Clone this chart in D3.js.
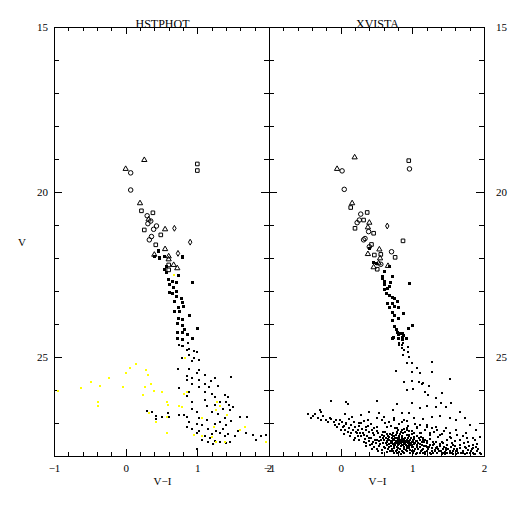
<!DOCTYPE html>
<html>
<head>
<meta charset="utf-8">
<script src="https://cdn.jsdelivr.net/npm/d3@7"></script>
<style>
  body { margin: 0; background: #fff; }
  svg { display: block; }
  text { font-family: "Liberation Serif", "DejaVu Serif", serif; fill: #000; }
</style>
</head>
<body>
<svg id="cmd"></svg>
<script>
// panel titles and axis labels
const panelNames = ["HSTPHOT", "XVISTA"];
const xTickLabels = [-1, 0, 1, 2];
const yTickLabels = [15, 20, 25];

// HSTPHOT panel, [V-I, V]
const hstSquares = [[1.0,19.15],[1.0,19.35],[0.22,20.57],[0.38,20.63],[0.26,21.15],[0.49,21.30],[0.42,21.60],[0.60,22.21],[0.60,22.36]];
const hstCircles = [[0.07,19.42],[0.07,19.94],[0.30,20.72],[0.35,20.88],[0.31,20.96],[0.39,21.13],[0.43,21.03],[0.36,21.35],[0.33,21.45]];
const hstTriangles = [[0.26,19.03],[0.0,19.30],[0.20,20.34],[0.32,20.83],[0.55,21.13],[0.55,21.73],[0.40,21.90],[0.60,21.95],[0.60,22.04],[0.67,22.21],[0.72,22.31]];
const hstDiamonds = [[0.68,21.10],[0.90,21.52],[0.73,21.86]];
const hstDots = [
  [0.45,21.76],[0.47,21.98],[0.53,21.95],[0.78,21.98],[0.39,21.94],[0.45,21.79],[0.47,22.00],[0.53,21.94],[0.56,22.24],
  [0.53,22.33],[0.56,22.42],[0.78,21.94],[0.73,22.52],[0.59,22.64],[0.64,22.70],[0.70,22.73],[0.61,22.79],[0.66,22.88],
  [0.70,23.00],[0.60,23.03],[0.64,23.06],[0.92,22.73],[0.70,23.15],[0.77,23.21],[0.68,23.30],[0.79,23.33],[0.80,23.45],
  [0.73,23.48],[0.74,23.62],[0.67,23.60],[0.89,23.73],[0.73,23.82],[0.79,23.85],[0.72,23.97],[0.78,24.03],[0.82,24.15],
  [0.79,24.24],[0.99,24.12],[0.71,24.24],[0.85,24.30],[0.92,24.42],[0.71,24.42],[0.78,24.45],[0.87,24.58],[0.80,24.67],
  [0.89,24.76],[0.75,24.64],
  [0.78,24.67],[0.86,24.79],[0.95,24.82],[1.00,24.85],[0.89,24.94],[0.79,25.03],[0.96,25.03],[0.92,25.12],[1.02,25.10],
  [0.73,25.36],[0.89,25.36],[1.03,25.39],[1.00,25.48],[1.10,25.55],[0.85,25.58],[0.93,25.64],[0.86,25.70],[1.03,25.70],
  [1.19,25.73],[1.24,25.64],[1.10,25.82],[0.93,25.82],[1.47,25.62],[0.74,25.94],[1.03,25.91],[1.16,25.91],[1.29,25.88],
  [0.89,26.06],[1.10,26.06],[1.20,26.11],[1.38,26.14],[0.85,26.18],[1.24,26.21],[1.43,26.21],[1.10,26.30],[0.93,26.37],
  [1.31,26.37],[1.40,26.35],[1.24,26.45],[1.13,26.47],[1.44,26.45],[1.50,26.50],[0.79,26.50],[1.36,26.58],[1.45,26.61],
  [0.93,26.58],[1.00,26.67],[1.20,26.67],[1.29,26.72],[1.59,26.82],[1.69,26.82],[0.61,26.82],[0.86,26.82],[1.03,26.85],
  [1.38,26.85],[1.13,26.91],[0.89,26.96],[1.31,26.96],[1.47,26.94],[0.99,27.02],[1.07,27.06],[1.24,27.04],[1.40,27.06],
  [0.85,27.12],[0.93,27.17],[1.15,27.17],[1.36,27.17],[1.03,27.24],[1.26,27.24],[1.57,27.24],[0.99,27.31],[1.20,27.33],
  [1.31,27.31],[1.43,27.33],[1.68,27.31],[1.10,27.40],[1.17,27.45],[1.38,27.40],[1.52,27.40],[1.06,27.52],[1.24,27.55],
  [1.45,27.57],[1.31,27.58],[1.15,27.58],[1.78,27.36],[1.89,27.38],[1.96,27.36],[1.82,27.52],[1.22,27.64],[1.40,27.61],
  [0.82,26.76],[0.75,26.76],[0.30,26.64],[0.37,26.68],[0.42,26.79],[0.50,26.81],[0.60,26.81],[0.42,26.89],[0.59,26.71],
  [1.0,27.79]
];
const hstYellow = [
  [-0.94,26.02],[-0.63,25.95],[-0.49,25.75],[-0.36,25.88],[-0.23,25.65],[-0.04,25.92],[-0.39,26.37],[-0.39,26.48],
  [0.01,25.49],[0.06,25.34],[0.14,25.21],[0.29,25.39],[0.31,25.55],[0.27,25.90],[0.39,26.03],[0.36,25.83],[0.24,26.15],
  [0.50,26.05],[0.59,26.45],[0.57,26.37],[0.33,26.71],[0.42,26.98],[0.57,26.81],[0.57,27.31],[0.83,25.02],[0.82,26.13],
  [0.85,26.05],[0.74,26.49],[0.78,26.52],[1.07,26.84],[1.27,26.37],[1.31,26.49],[1.26,26.61],[1.41,26.76],[1.23,27.11],
  [1.06,27.38],[0.96,27.36],[1.21,27.41],[1.39,27.57],[1.59,27.21],[1.67,27.11],[1.26,27.58],[1.96,27.57],[0.67,22.52]
];

// XVISTA panel, [V-I, V]
const xvSquares = [[0.95,19.05],[0.14,20.47],[0.37,20.62],[0.32,20.85],[0.20,21.10],[0.46,21.25],[0.87,21.48],[0.43,21.59],[0.56,21.89],[0.76,21.98],[0.47,21.91],[0.51,22.34]];
const xvCircles = [[0.02,19.36],[0.96,19.30],[0.05,19.92],[0.28,20.67],[0.26,20.85],[0.23,20.93],[0.39,21.20],[0.34,21.41],[0.32,21.45],[0.40,21.66],[0.71,21.81],[0.56,22.19]];
const xvTriangles = [[0.195,18.95],[-0.05,19.30],[0.16,20.34],[0.40,20.93],[0.38,21.07],[0.54,21.74],[0.38,21.88],[0.55,22.01],[0.53,22.16],[0.46,22.28],[0.66,22.24]];
const xvDiamonds = [[0.65,21.03]];
const xvDots = [
  [0.40,21.71],[0.45,22.11],[0.49,22.14],[0.61,22.38],[0.67,22.24],[0.71,22.55],[0.58,22.55],[0.57,22.62],[0.60,22.69],
  [0.69,22.74],[0.96,22.77],[0.61,22.79],[0.67,22.85],[0.64,22.92],[0.60,22.95],[0.63,23.05],[0.68,23.12],[0.72,23.19],
  [0.75,23.22],[0.64,23.35],[0.72,23.37],[0.79,23.29],[0.68,23.49],[0.75,23.45],[0.80,23.49],[0.72,23.63],[0.87,23.68],
  [0.75,23.73],[0.80,23.83],[0.71,23.88],[1.00,24.03],[0.94,24.13],[0.74,24.06],[0.77,24.16],[0.79,24.23],[0.81,24.28],
  [0.85,24.26],[0.87,24.33],[0.71,24.43],[0.80,24.43],[0.85,24.46],[0.91,24.43],[0.87,24.58],[0.82,24.64],[0.94,24.71],
  [0.86,24.74],
  [0.80,24.30],[0.85,24.38],[0.73,24.40],[0.82,24.58],[0.86,24.64],[0.89,24.79],[0.94,24.84],[0.87,24.94],[0.95,24.99],
  [0.99,25.19],[0.92,25.19],[1.06,25.34],[1.28,25.16],[0.77,25.42],[0.99,25.45],[1.10,25.48],[1.27,25.45],[0.89,25.75],
  [0.99,25.72],[1.09,25.75],[1.13,25.82],[1.15,25.80],[1.52,25.68],[0.92,26.00],[1.01,25.98],[1.17,26.05],[1.23,25.88],
  [-0.13,26.32],[0.08,26.35],[0.10,26.42],[-0.27,26.66],[-0.29,26.61],[-0.13,26.89],[0.51,26.33],[0.78,26.42],[0.99,26.40],
  [1.22,26.15],[1.33,26.25],[1.42,26.08],[1.40,26.38],[1.54,26.40],[1.47,26.52],[1.33,26.50],[1.20,26.48],[1.10,26.55],
  [0.96,26.71],[0.85,26.71],[0.73,26.61],[0.54,26.69],[0.40,26.66],[0.29,26.76],[0.16,26.83],[0.06,26.73],[-0.01,26.91],
  [0.08,27.01],[0.03,27.11],[0.15,27.06],[0.26,26.99],[0.38,26.91],[0.50,26.86],[0.61,26.83],[0.75,26.86],[0.89,26.91],
  [1.03,26.86],[1.15,26.89],[1.27,26.83],[1.38,26.79],[1.52,26.86],[1.61,26.91],[1.73,26.86],[1.66,26.66],[1.80,27.06],
  [1.89,27.21],[1.94,27.41],[1.85,27.46],[1.75,27.31],[1.61,27.21],[1.47,27.16],[1.33,27.11],[1.20,27.06],[1.06,27.11],
  [0.92,27.16],[0.78,27.16],[0.64,27.13],[0.50,27.11],[0.36,27.13],[0.24,27.21],[0.31,27.31],[0.45,27.31],[0.59,27.26],
  [0.73,27.31],[0.82,27.41],[0.96,27.36],[1.10,27.31],[1.24,27.31],[1.38,27.36],[1.52,27.41],[1.66,27.52],[1.57,27.67],
  [1.43,27.62],[1.29,27.57],[1.15,27.52],[1.01,27.57],[0.87,27.57],[0.73,27.52],[0.59,27.46],[0.50,27.52],[0.40,27.46],
  [0.64,27.67],[0.78,27.72],[0.92,27.77],[1.06,27.72],[1.20,27.74],[1.33,27.77],[1.47,27.82],[1.61,27.84],[1.75,27.77],
  [1.89,27.72],[1.85,27.92],[1.71,27.92],[1.57,27.94],[1.43,27.92],[1.29,27.90],[1.15,27.90],[1.01,27.92],[0.87,27.87],
  [0.73,27.84],[0.82,27.62],[0.80,27.52],
  [0.52,27.30],[0.55,27.42],[0.58,27.36],[0.60,27.50],[0.62,27.28],[0.63,27.45],[0.65,27.58],[0.66,27.38],[0.68,27.52],
  [0.69,27.33],[0.70,27.62],[0.71,27.46],[0.72,27.55],[0.73,27.40],[0.74,27.68],[0.75,27.50],[0.76,27.60],[0.77,27.35],
  [0.78,27.72],[0.79,27.44],[0.80,27.56],[0.81,27.64],[0.82,27.48],[0.83,27.78],[0.84,27.52],[0.85,27.66],[0.86,27.40],
  [0.87,27.58],[0.88,27.74],[0.89,27.47],[0.90,27.62],[0.91,27.82],[0.92,27.54],[0.93,27.70],[0.94,27.45],[0.95,27.60],
  [0.96,27.76],[0.97,27.52],[0.98,27.66],[0.99,27.86],[1.00,27.58],[1.01,27.72],[1.02,27.48],[1.03,27.64],[1.04,27.80],
  [1.05,27.56],[1.06,27.68],[1.07,27.90],[1.08,27.62],[1.10,27.74],[1.11,27.52],[1.12,27.84],[1.14,27.66],[1.15,27.78],
  [1.16,27.58],[1.18,27.88],[1.19,27.70],[1.20,27.62],[1.22,27.80],[1.24,27.92],[1.25,27.68],[1.27,27.76],[1.28,27.86],
  [1.30,27.64],[1.32,27.82],[1.34,27.92],[1.35,27.74],[1.37,27.86],[1.39,27.70],[1.41,27.94],[1.43,27.80],[1.45,27.88],
  [1.47,27.76],[1.49,27.92],[1.52,27.84],[1.54,27.72],[1.56,27.90],[1.58,27.80],[1.61,27.94],[1.63,27.86],[1.66,27.76],
  [1.68,27.92],[1.71,27.84],[1.74,27.94],[1.77,27.82],[1.80,27.90],[1.83,27.78],[1.86,27.94],[1.90,27.86],[1.94,27.90],
  [-0.45,26.72],[-0.38,26.80],[-0.32,26.86],[-0.25,26.78],[-0.20,26.92],[-0.15,26.84],[-0.10,26.98],[-0.06,26.90],
  [-0.02,27.04],[0.02,26.96],[0.05,27.10],[0.08,27.02],[0.11,27.16],[0.14,27.06],[0.17,27.20],[0.20,27.12],[0.22,27.26],
  [0.25,27.08],[0.27,27.30],[0.30,27.18],[0.32,27.36],[0.35,27.22],[0.37,27.40],[0.40,27.28],[0.42,27.46],[0.44,27.20],
  [0.46,27.36],[0.48,27.50],[0.50,27.24],[0.12,26.88],[0.18,26.96],[0.28,27.00],[0.33,26.94],[0.38,27.08],[0.43,27.04],
  [0.47,27.14],[-0.05,27.12],[0.06,27.22],[0.15,27.30],[0.24,27.38],[0.34,27.48],[0.45,27.58],[0.55,27.64],[0.60,27.72],
  [0.66,27.80],[0.72,27.86],[0.78,27.90],[0.84,27.94],
  [0.62,27.00],[0.70,27.08],[0.76,27.14],[0.82,27.02],[0.88,27.18],[0.94,27.10],[1.00,27.24],[1.06,27.16],[1.12,27.30],
  [1.18,27.22],[1.24,27.36],[1.30,27.28],[1.36,27.42],[1.42,27.34],[1.48,27.50],[1.54,27.44],[1.60,27.56],[1.66,27.50],
  [1.72,27.62],[1.78,27.58],[1.84,27.68],[1.90,27.64],[0.58,26.92],[0.68,26.96],[0.74,26.90],[0.86,26.98],[0.92,26.94],
  [1.04,27.04],[1.10,27.06],[1.20,27.12],[1.28,27.14],[1.34,27.20],[1.44,27.24],[1.52,27.30],[1.62,27.36],[1.70,27.40],
  [1.76,27.46],[1.88,27.52],
  [0.71,27.58],[0.73,27.64],[0.75,27.70],[0.77,27.54],[0.79,27.62],[0.80,27.76],[0.81,27.50],[0.83,27.58],[0.84,27.70],
  [0.85,27.46],[0.86,27.56],[0.87,27.68],[0.88,27.52],[0.89,27.80],[0.90,27.56],[0.91,27.66],[0.92,27.76],[0.93,27.50],
  [0.94,27.62],[0.95,27.70],[0.96,27.56],[0.97,27.82],[0.98,27.60],[0.99,27.72],[0.76,27.44],[0.82,27.40],[0.78,27.82],
  [0.74,27.76],[0.70,27.70],[0.68,27.64],[0.64,27.54],[0.66,27.48],
  [0.32,27.58],[0.36,27.62],[0.39,27.54],[0.41,27.68],[0.44,27.64],[0.47,27.72],[0.49,27.60],[0.51,27.78],[0.53,27.56],
  [0.54,27.70],[0.56,27.50],[0.57,27.82],[0.59,27.60],[0.61,27.40],[0.62,27.76],[0.63,27.62],[0.64,27.88],[0.65,27.34],
  [0.67,27.72],[0.68,27.42],[0.69,27.86],[0.70,27.54],[0.71,27.36],[0.72,27.78],[0.73,27.48],[0.74,27.92],[0.75,27.38],
  [0.76,27.66],[0.77,27.84],[0.78,27.46],[0.79,27.30],[0.80,27.68],[0.81,27.88],[0.82,27.56],[0.83,27.34],[0.84,27.62],
  [0.85,27.84],[0.86,27.50],[0.87,27.30],[0.88,27.64],[0.89,27.90],[0.90,27.44],[0.91,27.58],[0.92,27.36],[0.93,27.84],
  [0.94,27.54],[0.95,27.40],[0.96,27.66],[0.97,27.92],[0.98,27.46],[0.99,27.34],[1.00,27.68],[1.01,27.50],[1.02,27.86],
  [1.03,27.42],[1.04,27.60],[1.05,27.94],[1.06,27.38],[1.07,27.54],[1.08,27.80],[1.09,27.46],[1.10,27.64],[1.11,27.90],
  [1.12,27.42],[1.13,27.58],[1.14,27.82],[1.15,27.44],[1.16,27.70],[1.17,27.94],[1.18,27.50],[1.20,27.84],[1.21,27.54],
  [1.23,27.72],[1.25,27.48],[1.26,27.94],[1.29,27.66],[1.31,27.84],[1.33,27.58],[1.36,27.78],[1.38,27.64],[1.40,27.86],
  [1.42,27.58],[1.44,27.72],[1.46,27.94],[1.48,27.66],[1.50,27.78],[1.53,27.90],[1.55,27.62],[1.57,27.84],[1.59,27.70],
  [1.62,27.78],[1.64,27.92],[1.67,27.68],[1.70,27.88],[1.73,27.74],[1.76,27.90],[1.79,27.70],[1.82,27.86],[1.85,27.76],
  [1.88,27.94],[1.92,27.80],[1.96,27.94],
  [0.20,27.44],[0.23,27.30],[0.26,27.50],[0.29,27.40],[0.10,27.28],[0.13,27.40],[0.00,27.20],[-0.08,27.06],[-0.18,26.98],
  [-0.28,26.92],[-0.36,26.74],[-0.42,26.86],[0.04,27.32],[0.18,27.52],[0.36,27.70],[0.52,27.86],[0.58,27.92],[0.44,27.80],
  [0.80,27.22],[0.84,27.26],[0.90,27.28],[0.96,27.24],[0.86,27.20],[0.92,27.22],[0.78,27.28],[1.02,27.30]
];

const width = 512;
const height = 512;
const plotTop = 27;
const plotBottom = 456;

const svg = d3.select("#cmd").attr("width", width).attr("height", height);

// y is shared, magnitudes grow downwards
const yscale = d3.scaleLinear().domain([15, 28]).range([plotTop, plotBottom]);

const panels = [
  { name: panelNames[0], x0: 54, x1: 269, squares: hstSquares, circles: hstCircles, triangles: hstTriangles, diamonds: hstDiamonds, dots: hstDots, yellow: hstYellow },
  { name: panelNames[1], x0: 269, x1: 484, squares: xvSquares, circles: xvCircles, triangles: xvTriangles, diamonds: xvDiamonds, dots: xvDots, yellow: [] },
];

const minorX = d3.range(-1, 2.001, 0.2).map((d) => +d.toFixed(1)).filter((d) => !Number.isInteger(d));
const minorY = d3.range(15, 29).filter((d) => d % 5 !== 0);
const fmt = (d) => (d < 0 ? "\u2212" + Math.abs(d) : String(d));
// brighter stars get a slightly bigger dot
const dotSize = (d) => (d[1] < 24.5 ? 3 : 2);

function drawPanel(p, i) {
  const xscale = d3.scaleLinear().domain([-1, 2]).range([p.x0, p.x1]);
  const g = svg.append("g").attr("shape-rendering", "crispEdges");

  // bottom axis, ticks pointing up
  const gb = g.append("g").attr("transform", `translate(0,${plotBottom})`);
  gb.call(d3.axisBottom(xscale).tickValues(xTickLabels).tickSize(-7).tickPadding(8).tickFormat(fmt));
  gb.append("g").call(d3.axisBottom(xscale).tickValues(minorX).tickSize(-4).tickFormat(""));

  // top axis, ticks pointing down
  const gt = g.append("g").attr("transform", `translate(0,${plotTop})`);
  gt.call(d3.axisTop(xscale).tickValues(xTickLabels).tickSize(-7).tickFormat(""));
  gt.append("g").call(d3.axisTop(xscale).tickValues(minorX).tickSize(-4).tickFormat(""));

  // left and right axes, ticks inwards
  const gl = g.append("g").attr("transform", `translate(${p.x0},0)`);
  gl.call(d3.axisLeft(yscale).tickValues(yTickLabels).tickSize(-8).tickPadding(6).tickFormat(i === 0 ? fmt : ""));
  gl.append("g").call(d3.axisLeft(yscale).tickValues(minorY).tickSize(-5).tickFormat(""));

  const gr = g.append("g").attr("transform", `translate(${p.x1},0)`);
  gr.call(d3.axisRight(yscale).tickValues(yTickLabels).tickSize(-8).tickPadding(12).tickFormat(i === 1 ? fmt : ""));
  gr.append("g").call(d3.axisRight(yscale).tickValues(minorY).tickSize(-5).tickFormat(""));

  g.selectAll(".domain").remove();
  g.selectAll(".tick line").attr("stroke", "#000");
  g.selectAll(".tick text").style("font-family", '"Liberation Serif", serif').style("font-size", "11px").attr("fill", "#000");

  // frame
  g.append("rect")
    .attr("x", p.x0 + 0.5).attr("y", plotTop + 0.5)
    .attr("width", p.x1 - p.x0).attr("height", plotBottom - plotTop)
    .attr("fill", "none").attr("stroke", "#000");

  // title and x label
  svg.append("text")
    .attr("x", (p.x0 + p.x1) / 2 + 1).attr("y", plotTop + 1)
    .attr("text-anchor", "middle").style("font-size", "12px")
    .text(p.name);
  svg.append("text")
    .attr("x", (p.x0 + p.x1) / 2 + 1).attr("y", 485)
    .attr("text-anchor", "middle").style("font-size", "11px")
    .text("V\u2212I");

  // points
  const marks = svg.append("g").attr("shape-rendering", "crispEdges");
  marks.selectAll("rect.dot")
    .data(p.dots)
    .join("rect")
    .attr("class", "dot")
    .attr("x", (d) => Math.round(xscale(d[0])) - 1)
    .attr("y", (d) => Math.round(yscale(d[1])) - 1)
    .attr("width", dotSize).attr("height", dotSize)
    .attr("fill", "#000");

  marks.selectAll("rect.yel")
    .data(p.yellow)
    .join("rect")
    .attr("class", "yel")
    .attr("x", (d) => Math.round(xscale(d[0])) - 1)
    .attr("y", (d) => Math.round(yscale(d[1])) - 1)
    .attr("width", 2).attr("height", 2)
    .attr("fill", "#ffff00");

  const shapes = [
    [p.squares, d3.symbolSquare, 13],
    [p.circles, d3.symbolCircle, 16],
    [p.triangles, d3.symbolTriangle, 12],
    [p.diamonds, d3.symbolDiamond, 10],
  ];
  shapes.forEach(([data, type, size]) => {
    marks.append("g").attr("shape-rendering", "auto").selectAll("path")
      .data(data)
      .join("path")
      .attr("transform", (d) => `translate(${xscale(d[0])},${yscale(d[1])})`)
      .attr("d", d3.symbol().type(type).size(size))
      .attr("fill", "none")
      .attr("stroke", "#000")
      .attr("stroke-width", 1);
  });
}

panels.forEach(drawPanel);

// y label
svg.append("text")
  .attr("x", 22).attr("y", 246)
  .attr("text-anchor", "middle").style("font-size", "11px")
  .text("V");
</script>
</body>
</html>
